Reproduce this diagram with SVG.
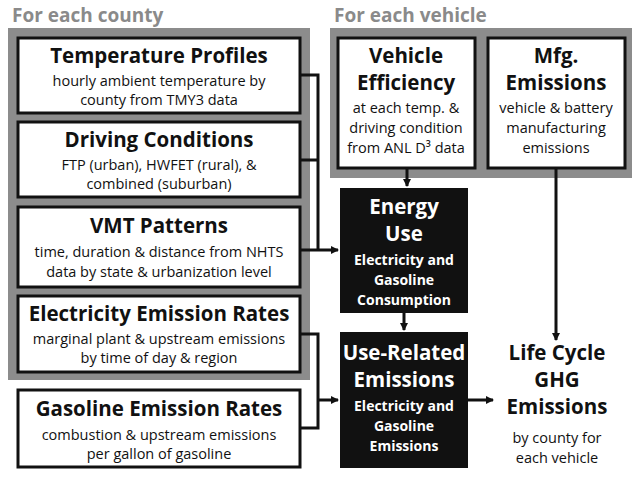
<svg xmlns="http://www.w3.org/2000/svg" width="640" height="481" viewBox="0 0 640 481">
<defs>
<marker id="ah" markerWidth="8" markerHeight="8" refX="7" refY="4" orient="auto" markerUnits="userSpaceOnUse"><path d="M0,0 L8,4 L0,8 Z" fill="#111"/></marker>
<style>
text{font-family:"Open Sans","Liberation Sans",sans-serif;text-anchor:middle;fill:#111}
.hd{font-size:19px;font-weight:bold;fill:#8a8a8a;text-anchor:start}
.panel{fill:#8c8c8c}
.wb{fill:#fff;stroke:#111;stroke-width:3}
.bb{fill:#111}
.t{font-size:20.5px;font-weight:bold}
.s{font-size:14.5px}
.k{font-size:14px}
.wt{fill:#fff;font-weight:bold}
.c{fill:none;stroke:#111;stroke-width:3}
</style>
</defs>
<rect width="640" height="481" fill="#fff"/>
<text class="hd" x="12" y="22">For each county</text>
<text class="hd" x="334" y="22">For each vehicle</text>
<rect class="panel" x="8" y="28" width="302" height="352"/>
<rect class="panel" x="330" y="28" width="302" height="150"/>
<g id="temp"><rect class="wb" x="18" y="38" width="282" height="75"/>
<text class="t" x="159" y="63">Temperature Profiles</text><text class="s" x="159" y="86">hourly ambient temperature by</text><text class="s" x="159" y="105">county from TMY3 data</text></g>
<g id="driving"><rect class="wb" x="18" y="122" width="282" height="75"/>
<text class="t" x="159" y="147">Driving Conditions</text><text class="s" x="159" y="170">FTP (urban), HWFET (rural), &amp;</text><text class="s" x="159" y="189">combined (suburban)</text></g>
<g id="vmt"><rect class="wb" x="18" y="207" width="282" height="80"/>
<text class="t" x="159" y="233">VMT Patterns</text><text class="s" x="159" y="257">time, duration &amp; distance from NHTS</text><text class="s" x="159" y="277">data by state &amp; urbanization level</text></g>
<g id="elec"><rect class="wb" x="18" y="296" width="282" height="76"/>
<text class="t" x="159" y="321">Electricity Emission Rates</text><text class="s" x="159" y="344">marginal plant &amp; upstream emissions</text><text class="s" x="159" y="363">by time of day &amp; region</text></g>
<g id="gas"><rect class="wb" x="18" y="390" width="282" height="77"/>
<text class="t" x="159" y="416">Gasoline Emission Rates</text><text class="s" x="159" y="440">combustion &amp; upstream emissions</text><text class="s" x="159" y="459">per gallon of gasoline</text></g>
<g id="veh"><rect class="wb" x="338" y="38" width="137" height="130"/>
<text class="t" x="406" y="63">Vehicle</text><text class="t" x="406" y="90">Efficiency</text><text class="s" x="406" y="113">at each temp. &amp;</text><text class="s" x="406" y="133">driving condition</text><text class="s" x="406" y="153">from ANL D³ data</text></g>
<g id="mfg"><rect class="wb" x="488" y="38" width="137" height="130"/>
<text class="t" x="556" y="63">Mfg.</text><text class="t" x="556" y="90">Emissions</text><text class="s" x="556" y="113">vehicle &amp; battery</text><text class="s" x="556" y="133">manufacturing</text><text class="s" x="556" y="153">emissions</text></g>
<g id="energy"><rect class="bb" x="340" y="188" width="128" height="125"/>
<text class="t wt" x="404" y="214">Energy</text><text class="t wt" x="404" y="241">Use</text><text class="k wt" x="404" y="265">Electricity and</text><text class="k wt" x="404" y="285">Gasoline</text><text class="k wt" x="404" y="305">Consumption</text></g>
<g id="use"><rect class="bb" x="340" y="332" width="128" height="136"/>
<text class="t wt" x="404" y="360">Use-Related</text><text class="t wt" x="404" y="387">Emissions</text><text class="k wt" x="404" y="411">Electricity and</text><text class="k wt" x="404" y="431">Gasoline</text><text class="k wt" x="404" y="451">Emissions</text></g>
<g id="lc"><text class="t" x="557" y="360">Life Cycle</text><text class="t" x="557" y="387">GHG</text><text class="t" x="557" y="414">Emissions</text><text class="s" x="557" y="443">by county for</text><text class="s" x="557" y="463">each vehicle</text></g>
<g id="connectors">
<path class="c" d="M300,75 H318 V250"/>
<path class="c" d="M300,160 H318"/>
<path class="c" d="M300,250 H338" marker-end="url(#ah)"/>
<path class="c" d="M407,168 V186" marker-end="url(#ah)"/>
<path class="c" d="M404,313 V330" marker-end="url(#ah)"/>
<path class="c" d="M300,334 H318 V428 H300"/>
<path class="c" d="M318,400 H338" marker-end="url(#ah)"/>
<path class="c" d="M468,400 H493" marker-end="url(#ah)"/>
<path class="c" d="M556,168 V340" marker-end="url(#ah)"/>
</g>
</svg>
